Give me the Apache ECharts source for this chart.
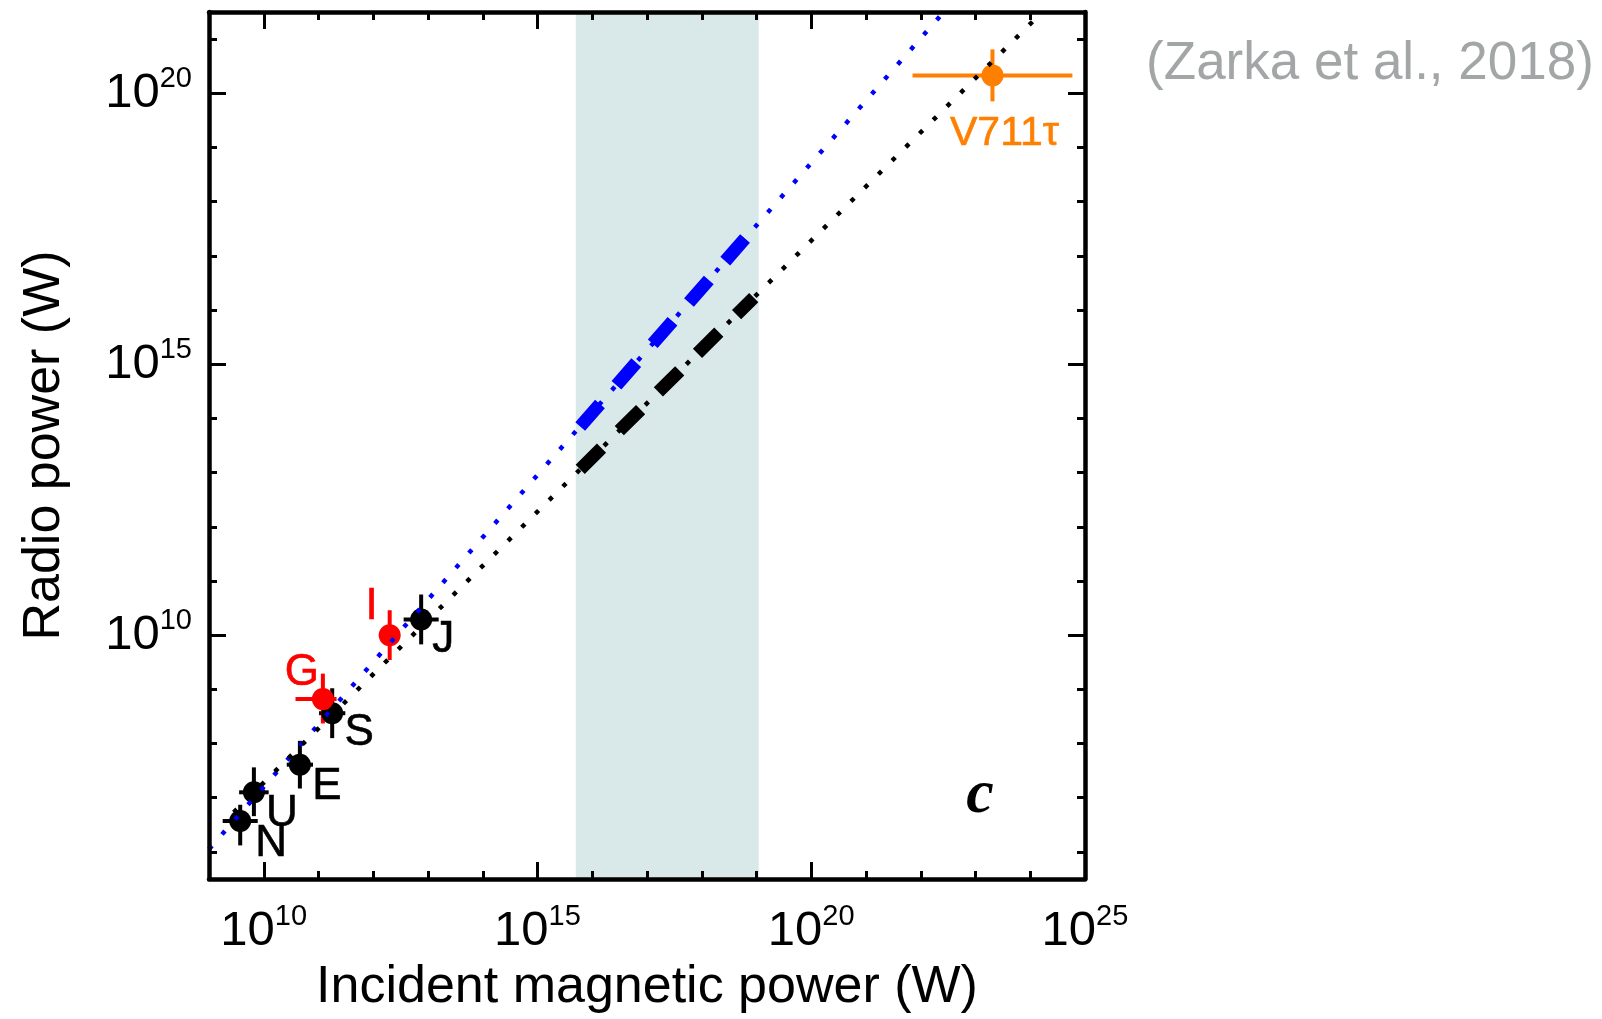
<!DOCTYPE html>
<html><head><meta charset="utf-8">
<script src="https://cdn.jsdelivr.net/npm/echarts@6/dist/echarts.min.js"></script>
<style>html,body{margin:0;padding:0;background:#fff}#c{width:1602px;height:1019px}</style>
</head><body><div id="c"></div>
<script>
// ---- data (log10 of power in W) ----
const bodies      = ['N', 'U', 'E', 'S', 'G', 'I', 'J', 'V711τ'];
const bodyKind    = ['planet','planet','planet','planet','moon','moon','planet','star'];
const logPin      = [9.57, 9.82, 10.66, 11.25, 11.08, 12.30, 12.875, 23.31];
const logPradio   = [6.57, 7.10, 7.61, 8.56, 8.82, 10.00, 10.29, 20.33];
const xErrLow     = [0.32, 0.27, 0.24, 0.24, 0.50, 0.00, 0.32, 1.46];
const xErrHigh    = [0.32, 0.27, 0.24, 0.24, 0.25, 0.00, 0.32, 1.46];
const yErrLow     = [0.45, 0.44, 0.44, 0.46, 0.45, 0.46, 0.46, 0.48];
const yErrHigh    = [0.30, 0.46, 0.44, 0.46, 0.47, 0.46, 0.46, 0.48];

// fitted scaling laws (endpoints)
const blueLaw       = [[9.00, 6.05], [22.42, 21.50]];
const blackLaw      = [[9.45, 6.73], [24.22, 21.50]];
const blueLawThick  = [[15.78, 13.85], [18.93, 17.48]];
const blackLawThick = [[15.78, 13.06], [18.95, 16.23]];
const shadedRange   = [15.70, 19.04];

// axes
const xRange = [9, 25];
const yRange = [5.5, 21.5];
const xMinorTicks = [10,11,12,13,14,15,16,17,18,19,20,21,22,23,24];
const xMajorTicks = [10, 15, 20];
const xTickLabels = [10, 15, 20, 25];
const yMinorTicks = [6,7,8,9,10,11,12,13,14,15,16,17,18,19,20,21];
const yMajorTicks = [10, 15, 20];
const yTickLabels = [10, 15, 20];

// ---- styles ----
const kindColor = { planet: '#000000', moon: '#ff0000', star: '#ff7f00' };
const labelOffset = {
  'N': [31, 23], 'U': [28, 22], 'E': [27, 22], 'S': [27, 20],
  'G': [-21, -26], 'I': [-18, -28], 'J': [22, 20], 'V711τ': [12, 58]
};
const FONT = 'Liberation Sans, Arial, Helvetica, sans-serif';

const tickLine = { color: '#000', width: 3 };
const fmt = v => '{b|10}{s|' + v + '}';
const rich = {
  b: { fontSize: 49, fontFamily: FONT, color: '#000', lineHeight: 58 },
  s: { fontSize: 29, fontFamily: FONT, color: '#000', lineHeight: 26, verticalAlign: 'top' }
};

function xAx(pos, ticks, len, showLine, labels, extra) {
  return Object.assign({
    type: 'value', min: xRange[0], max: xRange[1], position: pos, gridIndex: 0, z: 10,
    axisLine: { show: showLine, onZero: false, lineStyle: { color: '#000', width: 4.5 } },
    axisTick: { show: true, inside: true, length: len, customValues: ticks, lineStyle: tickLine },
    axisLabel: labels ? { show: true, customValues: labels, formatter: fmt, rich: rich, margin: 23 } : { show: false },
    splitLine: { show: false }
  }, extra || {});
}
function yAx(pos, ticks, len, showLine, labels, extra) {
  return Object.assign({
    type: 'value', min: yRange[0], max: yRange[1], position: pos, gridIndex: 0, z: 10,
    axisLine: { show: showLine, onZero: false, lineStyle: { color: '#000', width: 4.5 } },
    axisTick: { show: true, inside: true, length: len, customValues: ticks, lineStyle: tickLine },
    axisLabel: labels ? { show: true, customValues: labels, formatter: fmt, rich: rich, margin: 17 } : { show: false },
    splitLine: { show: false }
  }, extra || {});
}

const pointData = bodies.map((n, i) => {
  const c = kindColor[bodyKind[i]];
  return {
    name: n,
    value: [logPin[i], logPradio[i]],
    itemStyle: { color: c, opacity: 1 },
    label: {
      show: true, formatter: n, position: 'inside', offset: labelOffset[n],
      color: c, opacity: 1, fontFamily: FONT, fontSize: n === 'V711τ' ? 41 : 44,
      textBorderWidth: 0.6, textBorderColor: c
    }
  };
});
const errData = bodies.map((n, i) => [logPin[i], logPradio[i], xErrLow[i], xErrHigh[i], yErrLow[i], yErrHigh[i], i]);

const option = {
  animation: false,
  backgroundColor: '#fff',
  grid: { left: 209, top: 12, width: 876, height: 875, containLabel: false },
  xAxis: [
    xAx('bottom', xMinorTicks, 8, true, xTickLabels, {
      name: 'Incident magnetic power (W)', nameLocation: 'middle', nameGap: 83,
      nameTextStyle: { fontSize: 52, fontFamily: FONT, color: '#000' }
    }),
    xAx('bottom', xMajorTicks, 17, false, null),
    xAx('top', xMinorTicks, 8, true, null),
    xAx('top', xMajorTicks, 17, false, null)
  ],
  yAxis: [
    yAx('left', yMinorTicks, 8, true, yTickLabels, {
      name: 'Radio power (W)', nameLocation: 'middle', nameGap: 138,
      nameTextStyle: { fontSize: 52, fontFamily: FONT, color: '#000' }
    }),
    yAx('left', yMajorTicks, 17, false, null),
    yAx('right', yMinorTicks, 8, true, null),
    yAx('right', yMajorTicks, 17, false, null)
  ],
  series: [
    {
      name: 'shade', type: 'line', data: [], z: 0, silent: true,
      markArea: { silent: true, itemStyle: { color: '#d9e8e8', opacity: 1 },
        data: [[{ xAxis: shadedRange[0] }, { xAxis: shadedRange[1] }]] }
    },
    {
      name: 'errors', type: 'custom', z: 3, data: errData,
      renderItem: function (params, api) {
        const x = api.value(0), y = api.value(1);
        const col = kindColor[bodyKind[api.value(6)]];
        const l = api.coord([x - api.value(2), y]), r = api.coord([x + api.value(3), y]);
        const b = api.coord([x, y - api.value(4)]), t = api.coord([x, y + api.value(5)]);
        const st = { stroke: col, lineWidth: 4 };
        return { type: 'group', children: [
          { type: 'line', shape: { x1: l[0], y1: l[1], x2: r[0], y2: r[1] }, style: st },
          { type: 'line', shape: { x1: b[0], y1: b[1], x2: t[0], y2: t[1] }, style: st }
        ]};
      }
    },
    {
      name: 'bodies', type: 'scatter', z: 4, symbol: 'circle', symbolSize: 22, data: pointData,
      itemStyle: { opacity: 1 }
    },
    {
      name: 'blue law', type: 'line', z: 6, data: blueLaw, symbol: 'none',
      lineStyle: { color: '#0000ff', width: 4.5, type: [4.5, 15.2], opacity: 1 }
    },
    {
      name: 'black law', type: 'line', z: 6, data: blackLaw, symbol: 'none',
      lineStyle: { color: '#000000', width: 4.5, type: [4.5, 14.8], opacity: 1 }
    },
    {
      name: 'blue thick', type: 'line', z: 7, data: blueLawThick, symbol: 'none',
      lineStyle: { color: '#0000ff', width: 13, type: [30, 25], cap: 'butt', opacity: 1 }
    },
    {
      name: 'black thick', type: 'line', z: 7, data: blackLawThick, symbol: 'none',
      lineStyle: { color: '#000000', width: 13, type: [30, 25], cap: 'butt', opacity: 1 }
    }
  ],
  graphic: [
    { type: 'text', x: 1370, y: 64, z: 20,
      style: { text: '(Zarka et al., 2018)', font: '53px ' + FONT, fill: '#a2a6a6', align: 'center', verticalAlign: 'middle', textAlign: 'center', textVerticalAlign: 'middle' } },
    { type: 'text', x: 980, y: 796, z: 20,
      style: { text: 'c', font: 'italic bold 62px Liberation Serif, Times New Roman, serif', fill: '#000', align: 'center', verticalAlign: 'middle', textAlign: 'center', textVerticalAlign: 'middle' } }
  ]
};

const chart = echarts.init(document.getElementById('c'), null, { renderer: 'canvas', width: 1602, height: 1019 });
chart.setOption(option);
</script>
</body></html>
